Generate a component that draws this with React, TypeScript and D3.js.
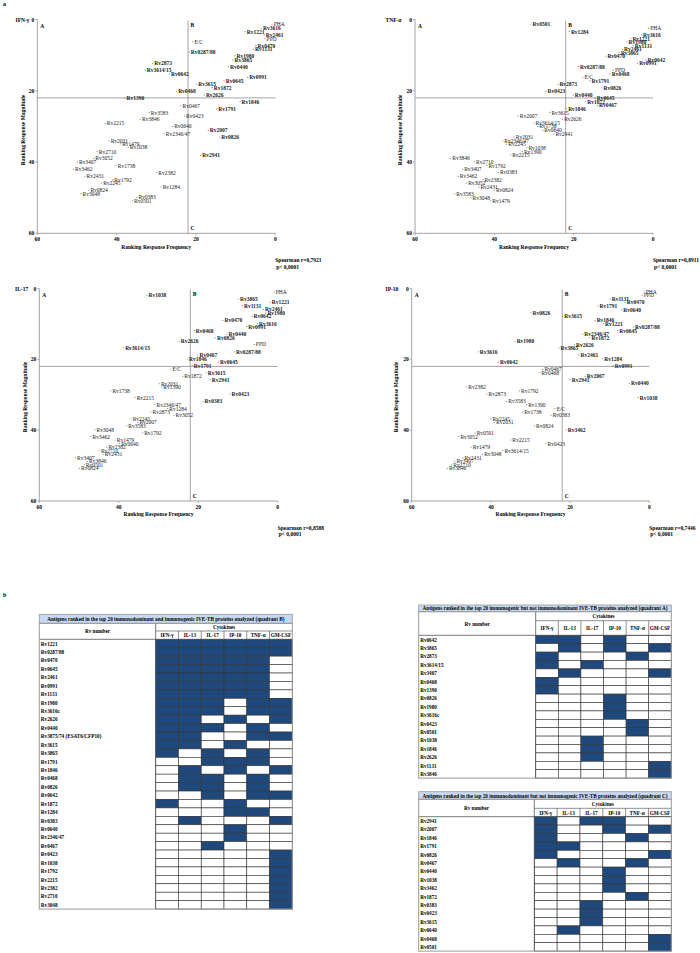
import React from 'react';
import * as d3 from 'd3';

type Pt = [string, number, number, number]; // label, frequency rank, magnitude rank, bold

const ifnPoints: Pt[] = [
  ["PHA",0.8,1.3,0],["Rv3616",3.5,2.5,1],["Rv1221",7.6,3.4,1],["Rv2461",2.8,4.3,1],["PPD",2.6,5.4,0],
  ["E/C",20.8,6.3,0],["Rv0470",4.9,7.3,1],["Rv1131",5.5,8.4,1],["Rv0287/88",21.7,9.2,1],["Rv1980",10.2,10.2,1],
  ["Rv3865",10.7,11.4,1],["Rv2873",30.9,12.3,1],["Rv0440",11.8,13.2,1],["Rv3614/15",32.8,14.2,1],["Rv0642",26.7,15.3,1],
  ["Rv0991",7.0,16.2,1],["Rv0645",12.9,17.2,1],["Rv3615",19.8,18.2,1],["Rv1872",15.9,19.1,1],["Rv0468",24.9,20.1,1],
  ["Rv2626",17.9,21.2,1],["Rv1390",37.9,22.1,1],["Rv1846",8.9,23.1,1],["Rv0467",23.8,24.2,0],["Rv1791",14.8,25.1,1],
  ["Rv3583",31.8,26.1,0],["Rv0423",22.9,27.1,0],["Rv3846",34.0,28.0,0],["Rv2215",42.9,29.1,0],["Rv0640",25.9,30.0,0],
  ["Rv2007",16.9,31.1,1],["Rv2346/47",28.0,32.1,0],["Rv0826",14.0,33.0,1],["Rv2031",41.9,34.1,0],["Rv1479",39.0,34.9,0],
  ["Rv1038",37.1,35.9,0],["Rv2710",44.9,37.1,0],["Rv2941",18.8,38.1,1],["Rv3052",45.8,39.0,0],["Rv3407",49.9,40.0,0],
  ["Rv1738",40.1,41.0,0],["Rv3462",50.9,42.0,0],["Rv2382",29.9,43.0,0],["Rv2431",48.0,44.0,0],["Rv1792",41.0,45.0,0],
  ["Rv2245",43.8,45.9,0],["Rv1284",28.8,47.0,0],["Rv0824",47.0,47.9,0],["Rv3048",49.0,48.9,0],["Rv0383",34.9,49.9,0],
  ["Rv0501",36.0,50.9,0],
];

const tnfPoints: Pt[] = [
  ["Rv0501",30.8,1.3,1],["PHA",1.1,2.5,0],["Rv1284",21.1,3.4,1],["Rv3616",2.9,4.3,1],["Rv1221",5.6,5.4,1],
  ["Rv1980",6.6,6.3,1],["Rv1131",5.0,7.3,1],["Rv2461",7.7,8.4,1],["Rv3865",8.5,9.3,1],["Rv0470",11.9,10.3,1],
  ["Rv0642",1.8,11.4,1],["Rv0991",3.9,12.3,1],["Rv0287/88",18.8,13.2,1],["PPD",10.0,14.2,0],["Rv0468",10.8,15.3,1],
  ["E/C",17.7,16.2,0],["Rv1791",15.9,17.2,1],["Rv2873",24.0,18.2,1],["Rv0826",12.9,19.2,1],["Rv0423",27.0,20.1,1],
  ["Rv0440",20.1,21.2,1],["Rv0645",14.6,22.1,1],["Rv1872",17.0,23.1,1],["Rv0467",14.0,24.1,1],["Rv1846",21.8,25.1,1],
  ["Rv3615",26.0,26.1,0],["Rv2007",34.0,27.1,0],["Rv2626",22.8,28.0,0],["Rv3614/15",30.0,29.1,0],["Rv1738",29.1,30.0,0],
  ["Rv0640",27.8,31.1,0],["Rv2941",25.0,32.1,0],["Rv2031",35.0,33.0,0],["Rv2346/47",37.9,34.1,0],["Rv2245",36.9,35.0,0],
  ["Rv1038",31.8,36.0,0],["Rv1390",32.9,37.1,0],["Rv2215",35.9,38.0,0],["Rv3846",51.0,39.0,0],["Rv2710",45.0,40.0,0],
  ["Rv1792",41.9,41.0,0],["Rv3407",48.0,42.0,0],["Rv0383",39.0,42.9,0],["Rv3462",49.1,44.0,0],["Rv2382",42.9,45.0,0],
  ["Rv3052",47.0,45.9,0],["Rv2431",43.9,47.0,0],["Rv0824",40.0,47.9,0],["Rv3583",50.0,48.9,0],["Rv3048",45.9,50.0,0],
  ["Rv1479",40.9,50.9,0],
];

const il17Points: Pt[] = [
  ["PHA",0.9,1.0,0],["Rv1038",32.9,1.9,1],["Rv3865",9.9,3.0,1],["Rv1221",1.9,3.9,1],["Rv1131",8.9,4.9,1],
  ["Rv2461",3.6,5.9,1],["Rv1980",3.0,6.9,1],["Rv0642",6.5,7.9,1],["Rv0470",13.8,9.0,1],["Rv3616",5.1,9.9,1],
  ["Rv0991",7.8,10.8,1],["Rv0468",21.0,11.9,1],["Rv0440",12.8,12.9,1],["Rv0826",15.7,13.9,1],["Rv2626",24.8,14.9,1],
  ["PPD",5.9,15.8,0],["Rv3614/15",38.8,16.8,1],["Rv0287/88",10.9,17.9,1],["Rv0467",20.1,18.8,1],["Rv1846",22.7,19.9,1],
  ["Rv0645",14.9,20.8,1],["Rv1791",21.5,21.8,1],["E/C",26.9,22.8,0],["Rv3615",18.0,23.8,1],["Rv1872",23.9,24.8,0],
  ["Rv2941",17.0,25.8,1],["Rv2031",29.8,26.9,0],["Rv1390",29.2,27.8,0],["Rv1738",42.0,28.9,0],["Rv0423",12.0,29.8,1],
  ["Rv2215",35.9,30.8,0],["Rv0383",18.8,31.9,1],["Rv2346/47",30.9,32.8,0],["Rv1284",27.7,33.9,0],["Rv2873",31.9,34.9,0],
  ["Rv3052",26.1,35.8,0],["Rv2245",36.9,36.8,0],["Rv2007",35.2,37.8,0],["Rv3583",38.0,38.8,0],["Rv3048",46.0,39.9,0],
  ["Rv1792",34.0,40.8,0],["Rv3462",47.0,41.8,0],["Rv1479",40.9,42.8,0],["Rv0640",39.8,43.8,0],["Rv2382",43.0,44.8,0],
  ["Rv2710",44.9,45.8,0],["Rv2431",43.9,46.8,0],["Rv3407",50.9,47.8,0],["Rv3846",47.9,48.8,0],["Rv0501",48.7,49.8,0],
  ["Rv0824",49.9,50.8,0],
];

const ip10Points: Pt[] = [
  ["PHA",1.3,1.0,0],["PPD",1.8,1.9,0],["Rv1131",9.9,3.0,1],["Rv0470",6.1,3.9,1],["Rv1791",13.0,4.9,1],
  ["Rv0640",7.0,6.0,1],["Rv0826",29.9,6.9,1],["Rv3615",21.9,7.9,1],["Rv1846",13.7,9.0,1],["Rv1221",11.6,9.9,1],
  ["Rv0287/88",4.0,10.9,1],["Rv0645",8.0,11.9,1],["Rv2346/47",16.8,12.9,1],["Rv1872",15.0,13.9,1],["Rv1980",33.9,14.9,1],
  ["Rv2626",18.9,15.9,1],["Rv3865",22.8,16.8,1],["Rv3616",43.2,17.9,1],["Rv2461",17.8,18.8,1],["Rv1284",11.8,19.9,1],
  ["Rv0642",38.1,20.8,1],["Rv0991",9.1,21.8,1],["Rv0467",26.9,22.8,0],["Rv0468",27.6,23.8,0],["Rv2007",16.2,24.8,1],
  ["Rv2941",20.0,25.8,1],["Rv0440",5.0,26.8,1],["Rv2382",46.1,27.8,0],["Rv1792",32.8,28.9,0],["Rv2873",41.0,29.8,0],
  ["Rv1038",2.8,30.8,1],["Rv3583",36.0,31.9,0],["Rv1390",31.0,32.8,0],["E/C",23.8,33.9,0],["Rv1738",32.0,34.9,0],
  ["Rv0383",24.8,35.8,0],["Rv2245",40.0,36.8,0],["Rv2031",39.1,37.8,0],["Rv0824",29.0,38.8,0],["Rv3462",21.0,39.9,1],
  ["Rv0501",44.0,40.8,0],["Rv3052",48.1,41.8,0],["Rv2215",35.0,42.8,0],["Rv0423",26.1,43.8,0],["Rv1479",45.0,44.8,0],
  ["Rv3614/15",37.0,45.8,0],["Rv3048",42.1,46.8,0],["Rv2431",47.1,47.8,0],["Rv3407",49.1,48.8,0],["Rv2710",49.9,49.8,0],
  ["Rv3846",51.0,50.8,0],
];

const axisTicks = [0, 20, 40, 60];
const quadrantCut = 22;

const cytokines = ["IFN-γ", "IL-13", "IL-17", "IP-10", "TNF-α", "GM-CSF"];

const tableBRows = ["Rv1221","Rv0287/88","Rv0470","Rv0645","Rv2461","Rv0991","Rv1131","Rv1980","Rv3616c","Rv2626","Rv0440",
  "Rv3875/74 (ESAT6/CFP10)","Rv3615","Rv3865","Rv1791","Rv1846","Rv0468","Rv0826","Rv0642","Rv1872","Rv1284","Rv0383",
  "Rv0640","Rv2346/47","Rv0467","Rv0423","Rv1038","Rv1792","Rv2215","Rv2382","Rv2710","Rv3048"];
const tableBCells = ["111111","111111","111110","111110","111110","111110","111110","111011","111011","110101","111010",
  "110011","110100","101010","001110","010101","011010","011010","001011","100100","000110","010001",
  "000100","000100","001000","000001","000001","000001","000001","000001","000001","000001"];

const tableARows = ["Rv0642","Rv3865","Rv2873","Rv3614/15","Rv3407","Rv0468","Rv1390","Rv0826","Rv1980","Rv3616c","Rv0423",
  "Rv0501","Rv1038","Rv1846","Rv2626","Rv1131","Rv3846"];
const tableACells = ["110100","010101","100010","101000","010001","100000","100000","000100","000100","000100","000010",
  "000010","001000","001000","001000","000001","000001"];

const tableCRows = ["Rv2941","Rv2007","Rv1846","Rv1791","Rv0826","Rv0467","Rv0440","Rv1038","Rv3462","Rv1872","Rv0383",
  "Rv0423","Rv3615","Rv0640","Rv0468","Rv0501"];
const tableCCells = ["101100","100101","100010","110000","100001","010010","000100","000100","000100","000010","001000",
  "001000","001000","010000","000001","000001"];

const FONT = "'Liberation Serif', 'Times New Roman', serif";
const AXIS = "#9a9a9a";
const BLUE = "#1F497D";

type ScatterProps = {
  pts: Pt[]; name: string; rho: string;
  x0: number; x1: number; y0: number; y1: number;
  nameX: number; yTitleX: number; yTitleY: number;
};

function Scatter({ pts, name, rho, x0, x1, y0, y1, nameX, yTitleX, yTitleY }: ScatterProps) {
  const xs = d3.scaleLinear().domain([60, 0]).range([x0, x1]);
  const ys = d3.scaleLinear().domain([0, 60]).range([y0, y1]);
  const qx = xs(quadrantCut);
  const qy = ys(quadrantCut);
  return (
    <g fontFamily={FONT}>
      <text x={nameX} y={ys(0)} fontSize={5.5} fontWeight="bold" dominantBaseline="central">{name}</text>
      {/* axes */}
      <line x1={x0} x2={x0} y1={y0} y2={y1} stroke={AXIS} strokeWidth={0.9} />
      <line x1={x0} x2={x1} y1={y1} y2={y1} stroke={AXIS} strokeWidth={0.9} />
      {axisTicks.map(t => (
        <g key={'y' + t}>
          <line x1={x0 - 2} x2={x0} y1={ys(t)} y2={ys(t)} stroke={AXIS} strokeWidth={0.8} />
          <text x={x0 - 3} y={ys(t)} fontSize={5.5} fontWeight="bold" textAnchor="end" dominantBaseline="central">{t}</text>
        </g>
      ))}
      {axisTicks.map(t => (
        <g key={'x' + t}>
          <line x1={xs(t)} x2={xs(t)} y1={y1} y2={y1 + 2} stroke={AXIS} strokeWidth={0.8} />
          <text x={xs(t)} y={y1 + 6} fontSize={5.5} fontWeight="bold" textAnchor="middle" dominantBaseline="central">{t}</text>
        </g>
      ))}
      <text x={(x0 + x1) / 2} y={y1 + 13.4} fontSize={5.5} fontWeight="bold" textAnchor="middle" dominantBaseline="central">Ranking Response Frequency</text>
      <text transform={`translate(${yTitleX},${yTitleY}) rotate(-90)`} fontSize={5.5} fontWeight="bold" textAnchor="middle" dominantBaseline="central">Ranking Response Magnitude</text>
      {/* quadrants */}
      <line x1={qx} x2={qx} y1={y0 + 1} y2={y1} stroke={AXIS} strokeWidth={0.9} />
      <line x1={x0} x2={x1} y1={qy} y2={qy} stroke={AXIS} strokeWidth={0.9} />
      <text x={x0 + 3} y={y0 + 8} fontSize={5.5} fontWeight="bold">A</text>
      <text x={qx + 2.5} y={y0 + 7} fontSize={5.5} fontWeight="bold">B</text>
      <text x={qx + 2.5} y={y1 - 3} fontSize={5.5} fontWeight="bold">C</text>
      {/* points */}
      {pts.map(([lab, f, m, b]) => (
        <g key={lab}>
          <rect x={xs(f) - 0.6} y={ys(m) - 0.4} width={1.2} height={0.8} fill="#777" />
          <text x={xs(f) + 1.6} y={ys(m)} fontSize={5.5} fontWeight={b ? 'bold' : 'normal'} fill="#222" dominantBaseline="central">{lab}</text>
        </g>
      ))}
      <text x={x1} y={y1 + 26.5} fontSize={5.5} fontWeight="bold" dominantBaseline="central">{`Spearman r=${rho}`}</text>
      <text x={x1 + 1} y={y1 + 33.3} fontSize={5.5} fontWeight="bold" dominantBaseline="central">p&lt; 0,0001</text>
    </g>
  );
}

type TableProps = {
  title: string; rows: string[]; cells: string[];
  left: number; labelRight: number; right: number;
  top: number; titleH: number; cytoH: number; namesH: number; rowH: number;
};

function Table({ title, rows, cells, left, labelRight, right, top, titleH, cytoH, namesH, rowH }: TableProps) {
  const colX = d3.scaleLinear().domain([0, cytokines.length]).range([labelRight, right]);
  const cw = colX(1) - colX(0);
  const hTop = top + titleH;
  const nTop = hTop + cytoH;
  const rTop = nTop + namesH;
  const rowY = d3.scaleLinear().domain([0, rows.length]).range([rTop, rTop + rows.length * rowH]);
  const bottom = rowY(rows.length);
  return (
    <g fontFamily={FONT}>
      <rect x={left} y={top} width={right - left} height={titleH} fill="#C6D9F1" stroke="#999" strokeWidth={0.8} />
      <text x={(left + right) / 2} y={top + titleH / 2} fontSize={5.2} fontWeight="bold" textAnchor="middle" dominantBaseline="central">{title}</text>
      <text x={(left + labelRight) / 2} y={(hTop + rTop) / 2} fontSize={5.2} fontWeight="bold" textAnchor="middle" dominantBaseline="central">Rv number</text>
      <text x={(labelRight + right) / 2} y={hTop + cytoH / 2} fontSize={5.2} fontWeight="bold" textAnchor="middle" dominantBaseline="central">Cytokines</text>
      <line x1={labelRight} x2={right} y1={nTop} y2={nTop} stroke="#444" strokeWidth={0.6} />
      {cytokines.map((c, i) => (
        <g key={c}>
          <text x={colX(i) + cw / 2} y={nTop + namesH / 2} fontSize={5.2} fontWeight="bold" textAnchor="middle" dominantBaseline="central">{c}</text>
          {i > 0 && <line x1={colX(i)} x2={colX(i)} y1={nTop} y2={rTop} stroke="#444" strokeWidth={0.6} />}
        </g>
      ))}
      {rows.map((r, ri) => (
        <g key={r + ri}>
          <text x={left + 1.5} y={rowY(ri) + rowH / 2} fontSize={5.2} fontWeight="bold" dominantBaseline="central">{r}</text>
          {cells[ri].split('').map((v, ci) => (
            <rect key={ci} x={colX(ci)} y={rowY(ri)} width={cw} height={rowH}
              fill={v === '1' ? BLUE : '#fff'} stroke="#333" strokeWidth={0.6} />
          ))}
        </g>
      ))}
      <line x1={left} x2={right} y1={rTop} y2={rTop} stroke="#555" strokeWidth={0.8} />
      <line x1={labelRight} x2={labelRight} y1={hTop} y2={bottom} stroke="#555" strokeWidth={0.8} />
      <rect x={left} y={hTop} width={right - left} height={bottom - hTop} fill="none" stroke="#999" strokeWidth={1} />
    </g>
  );
}

export default function App() {
  return (
    <svg width={700} height={953} viewBox="0 0 700 953"
      style={{ position: 'absolute', left: 0, top: 0, background: '#fff' }}>
      <rect x={0} y={0} width={700} height={953} fill="#fff" />
      <text x={3} y={6} fontSize={6} fontWeight="bold" fontFamily={FONT}>a</text>
      <Scatter pts={ifnPoints} name="IFN-γ" rho="0,7921" x0={37.3} x1={275.3} y0={19.5} y1={233.3} nameX={15.5} yTitleX={23.3} yTitleY={130} />
      <Scatter pts={tnfPoints} name="TNF-α" rho="0,8911" x0={415} x1={653} y0={19.5} y1={233.3} nameX={385.5} yTitleX={400} yTitleY={130} />
      <Scatter pts={il17Points} name="IL-17" rho="0,8588" x0={39.3} x1={277.7} y0={288.5} y1={501} nameX={15} yTitleX={25} yTitleY={397} />
      <Scatter pts={ip10Points} name="IP-10" rho="0,7446" x0={411.7} x1={649.3} y0={288.5} y1={501} nameX={385.5} yTitleX={396} yTitleY={397} />
      <text x={3} y={597} fontSize={6} fontWeight="bold" fontFamily={FONT}>b</text>
      <Table title="Antigens ranked in the top 20 immunodominant and immunogenic IVE-TB proteins analyzed (quadrant B)"
        rows={tableBRows} cells={tableBCells} left={39.3} labelRight={155.7} right={292.3}
        top={614.3} titleH={9} cytoH={7.7} namesH={8.3} rowH={8.43} />
      <Table title="Antigens ranked in the top 20 immunogenic but not immunodominant IVE-TB proteins analyzed (quadrant A)"
        rows={tableARows} cells={tableACells} left={418.7} labelRight={535.7} right={671.3}
        top={605} titleH={6.7} cytoH={9} namesH={14.6} rowH={8.4} />
      <Table title="Antigens ranked in the top 20 immunodominant but not immunogenic IVE-TB proteins analyzed (quadrant C)"
        rows={tableCRows} cells={tableCCells} left={418.7} labelRight={534.3} right={671.3}
        top={791.7} titleH={7.6} cytoH={9} namesH={8.4} rowH={8.4} />
    </svg>
  );
}
